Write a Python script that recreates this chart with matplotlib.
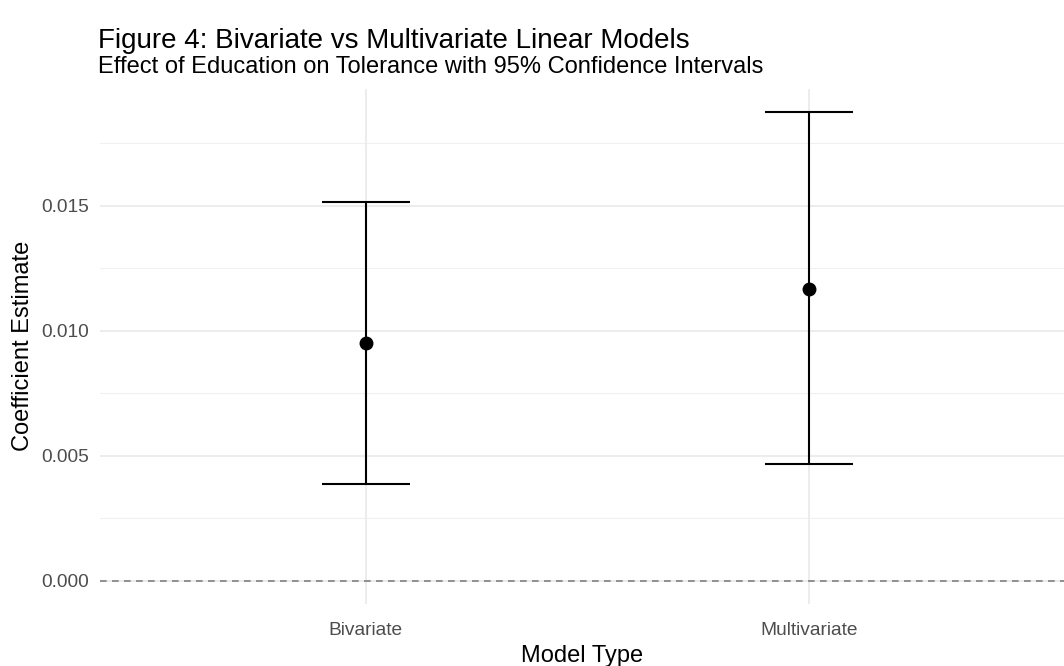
import numpy as np
import matplotlib
matplotlib.use("Agg")
import matplotlib.pyplot as plt

plt.rcParams['font.family'] = ['Liberation Sans', 'DejaVu Sans']

models = ["Bivariate", "Multivariate"]
estimate = [0.00952, 0.01168]
conf_low = [0.00388, 0.00468]
conf_high = [0.01516, 0.01876]

W, H = 1064, 666
fig = plt.figure(figsize=(W / 100, H / 100), dpi=100)
ax = fig.add_axes([100 / W, (H - 604) / H, (W - 100) / W, (604 - 88.5) / H])

x = np.arange(1, len(models) + 1)
est = np.array(estimate)
lo = np.array(conf_low)
hi = np.array(conf_high)

# ggplot-style expansion of the y range (includes the zero line)
ymin, ymax = min(0, lo.min()), hi.max()
pad = 0.05 * (ymax - ymin)
ax.set_ylim(ymin - pad, ymax + pad)
ax.set_xlim(0.4, 2.576)

# grid: major + minor horizontal, vertical only at categories
for v in [0.0025, 0.0075, 0.0125, 0.0175]:
    ax.axhline(v, color="#F0F0F0", lw=0.8, zorder=0)
for v in [0.0, 0.005, 0.010, 0.015]:
    ax.axhline(v, color="#EBEBEB", lw=1.3, zorder=0)
for xi in x:
    ax.axvline(xi, color="#EBEBEB", lw=1.3, zorder=0)

ax.axhline(0, color="#7F7F7F", lw=1.2, ls=(0, (4, 3.2)), zorder=1)

ax.errorbar(x, est, yerr=[est - lo, hi - est], fmt="none", ecolor="black",
            elinewidth=1.5, capsize=31.5, capthick=1.5, zorder=3)
ax.plot(x, est, "o", color="black", ms=9, zorder=4)

ax.set_xticks(x)
ax.set_xticklabels(models)
ax.set_yticks([0.0, 0.005, 0.010, 0.015])
ax.set_yticklabels(["0.000", "0.005", "0.010", "0.015"])
ax.tick_params(length=0, labelsize=13.8, labelcolor="#4D4D4D")
ax.tick_params(axis="y", pad=8)
ax.tick_params(axis="x", pad=13)
for s in ax.spines.values():
    s.set_visible(False)

ax.set_xlabel("Model Type", fontsize=17, labelpad=4)
ax.set_ylabel("Coefficient Estimate", fontsize=17, labelpad=5)

fig.text(98 / W, 1 - 41 / H, "Figure 4: Bivariate vs Multivariate Linear Models",
         fontsize=20, va="center", ha="left")
fig.text(98 / W, 1 - 67 / H, "Effect of Education on Tolerance with 95% Confidence Intervals",
         fontsize=17, va="center", ha="left")

fig.savefig("out.png", dpi=100, facecolor="white")
